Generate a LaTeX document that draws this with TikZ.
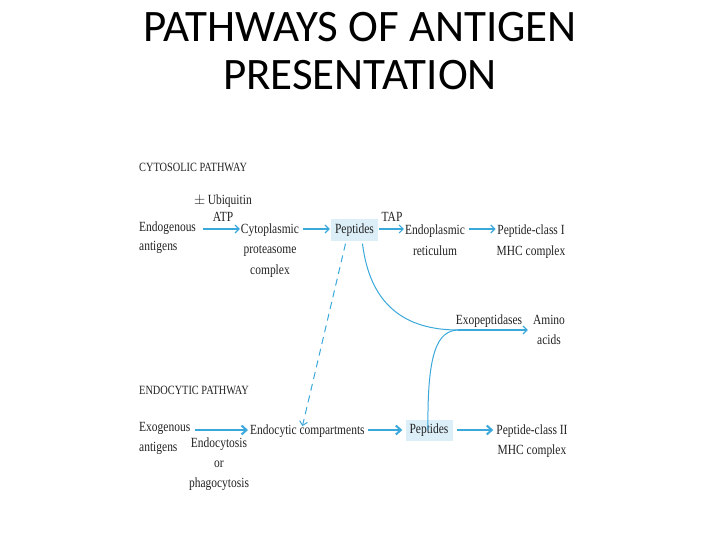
\documentclass[tikz,border=0pt]{standalone}
\usepackage{fontspec}
\setmainfont{Liberation Serif}
\newfontfamily\titlefont{Carlito}
\newfontfamily\dfont[FakeStretch=0.82]{Liberation Serif}
\usetikzlibrary{arrows.meta}
\definecolor{arrblue}{HTML}{3AA8DA}
\definecolor{pepfill}{HTML}{DCEEF8}
\definecolor{txt}{HTML}{222222}
\newcommand{\dsz}[1]{\dfont\fontsize{14}{#1}\selectfont}
\tikzset{
  lbl/.style={inner sep=0pt, text=txt, font=\dsz{19}},
  hdr/.style={inner sep=0pt, text=txt, font=\dfont\fontsize{12.6}{14}\selectfont},
  pepbox/.style={fill=pepfill, text=txt, font=\dsz{16}, minimum width=47pt, minimum height=21pt, inner sep=0pt},
  arr/.style={draw=arrblue, line width=1.1pt, -{Straight Barb[length=4pt,width=8pt]}},
  tharr/.style={draw=arrblue, line width=2pt, -{Straight Barb[length=5pt,width=9pt]}},
  curv/.style={draw=arrblue, line width=1pt},
}
\begin{document}
\begin{tikzpicture}[x=1pt,y=-1pt]
\useasboundingbox (0,0) rectangle (720,540);
% title
\node[inner sep=0pt, anchor=base, font=\titlefont\fontsize{45}{48}\selectfont] (t1) at (360,42) {PATHWAYS OF ANTIGEN};
\node[inner sep=0pt, anchor=base, font=\titlefont\fontsize{45}{48}\selectfont] (t2) at (360,90) {PRESENTATION};
% row coordinates
\coordinate (row1) at (0,229);
\coordinate (row2) at (0,430);
% cytosolic pathway
\node[hdr, anchor=base west] (h1) at (139,172) {CYTOSOLIC PATHWAY};
\node[lbl, anchor=base west, align=left, font=\dsz{18}] (endo) at (139,250) {Endogenous\\antigens};
\node[lbl, anchor=base, align=center, font=\dsz{17}] (ubiq) at (223,222) {$\pm$\,Ubiquitin\\ATP};
\node[lbl, anchor=base, align=center, font=\dsz{20.5}] (cyto) at (270,274) {Cytoplasmic\\proteasome\\complex};
\node[pepbox] (pep1) at (354.5,230) {Peptides};
\node[lbl, anchor=base] (tap) at (392,222) {TAP};
\node[lbl, anchor=base, align=center, font=\dsz{21.5}] (er) at (435,255.5) {Endoplasmic\\reticulum};
\node[lbl, anchor=base, align=center, font=\dsz{21}] (mhc1) at (531,255) {Peptide-class I\\MHC complex};
\draw[arr] ([xshift=7pt]endo.east |- row1) -- ([xshift=-1pt]cyto.west |- row1);
\draw[arr] ([xshift=4pt]cyto.east |- row1) -- ([xshift=-1pt]pep1.west |- row1);
\draw[arr] ([xshift=1pt]pep1.east |- row1) -- ([xshift=-1pt]er.west |- row1);
\draw[arr] ([xshift=4pt]er.east |- row1) -- ([xshift=-1pt]mhc1.west |- row1);
% exopeptidases
\coordinate (merge) at (458,330);
\node[lbl, anchor=base] (exo) at (489,324) {Exopeptidases};
\node[lbl, anchor=base, align=center, font=\dsz{20}] (amino) at (549,344) {Amino\\acids};
\draw[curv] ([xshift=8pt,yshift=-3pt]pep1.south) .. controls (370,305) and (405,330) .. (merge);
\draw[arr, line width=1.2pt] (merge) -- ([xshift=-5pt]amino.west |- merge);
% endocytic pathway
\node[hdr, anchor=base west] (h2) at (139,394) {ENDOCYTIC PATHWAY};
\node[lbl, anchor=base west, align=left, font=\dsz{20}] (exog) at (139,451) {Exogenous\\antigens};
\node[lbl, anchor=base, align=center, font=\dsz{20}] (endocy) at (219,487) {Endocytosis\\or\\phagocytosis};
\node[lbl, anchor=base west] (comp) at (250,434) {Endocytic compartments};
\node[pepbox] (pep2) at (429,430.5) {Peptides};
\node[lbl, anchor=base, align=center, font=\dsz{20}] (mhc2) at (532,454) {Peptide-class II\\MHC complex};
\draw[tharr] ([xshift=5pt]exog.east |- row2) -- ([xshift=-2pt]comp.west |- row2);
\draw[tharr] ([xshift=3pt]comp.east |- row2) -- ([xshift=-3pt]pep2.west |- row2);
\draw[tharr] ([xshift=4pt]pep2.east |- row2) -- ([xshift=-3pt]mhc2.west |- row2);
\draw[curv] ([xshift=-1pt,yshift=-10pt]pep2.north) .. controls (427,350) and (438,331) .. (merge);
% dashed link
\draw[draw=arrblue, line width=1pt, dashed, dash pattern=on 7pt off 5pt, -{Straight Barb[length=4pt,width=8pt]}] ([xshift=-9pt,yshift=-3pt]pep1.south) -- ([xshift=-5pt,yshift=-2pt]comp.north);
\end{tikzpicture}
\end{document}
